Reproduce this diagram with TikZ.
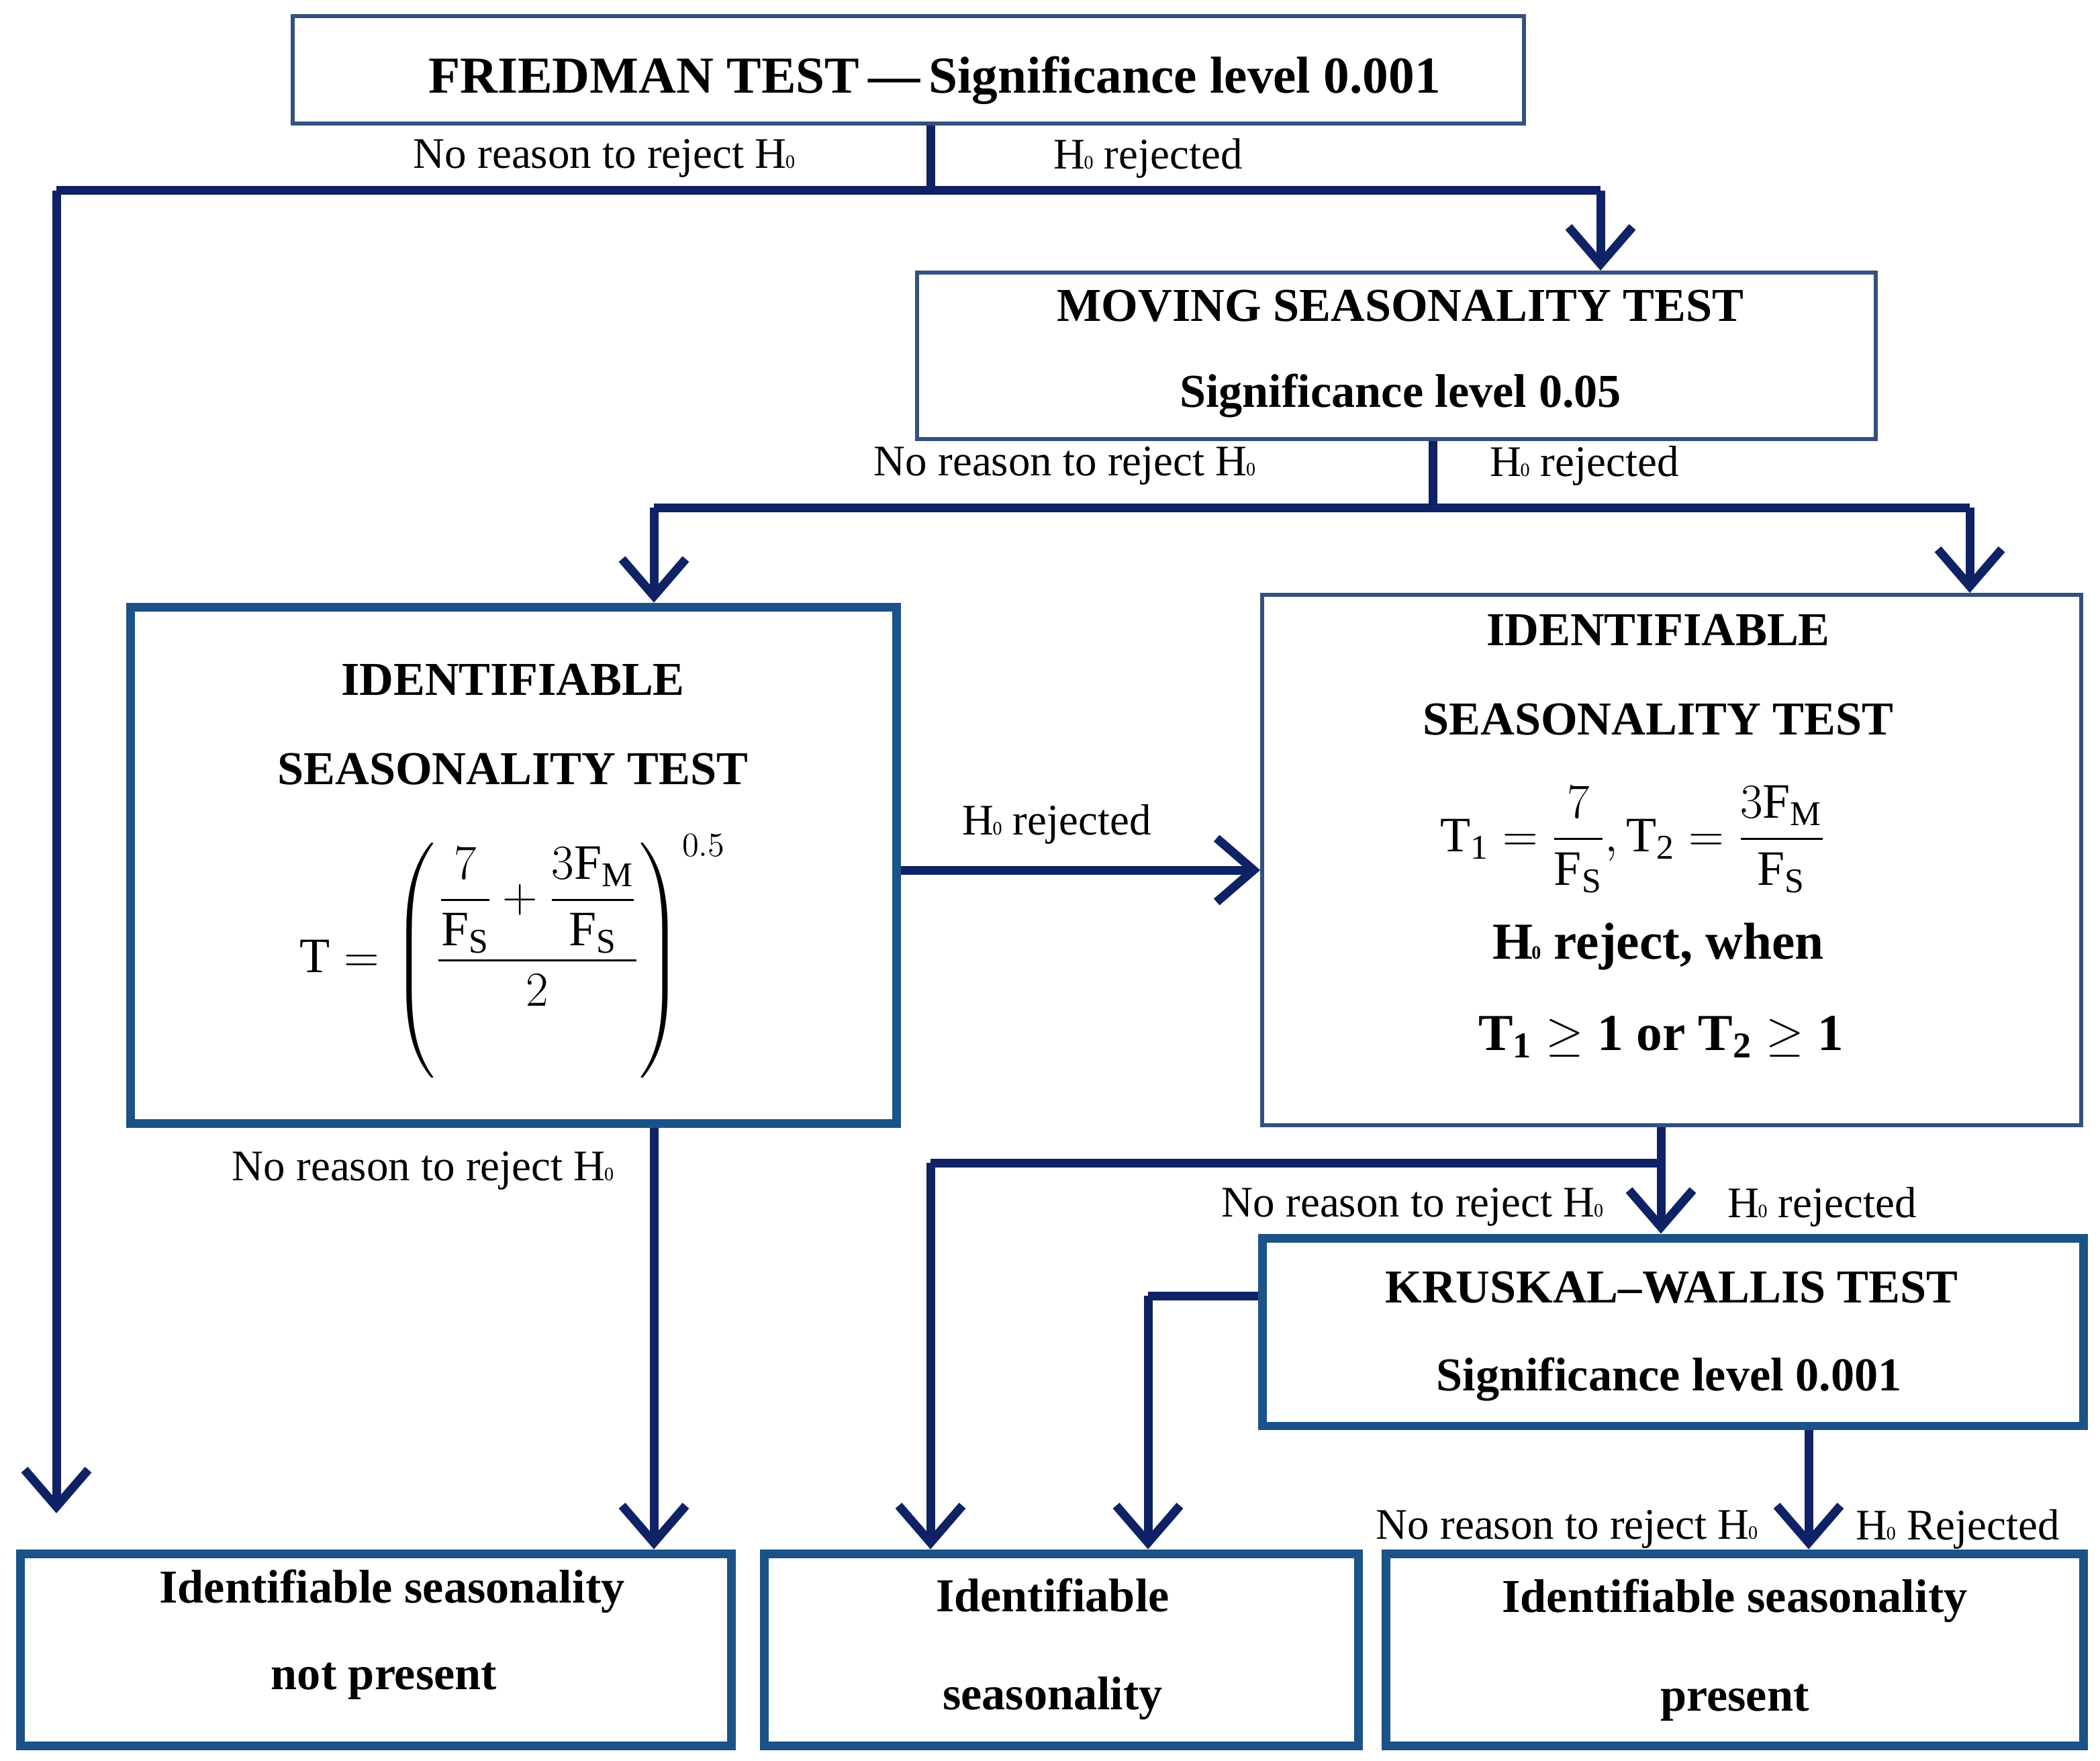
\documentclass[tikz,border=0pt]{standalone}
\usepackage{fontspec}
\usepackage{amsmath}
\setmainfont{Liberation Serif}
\usetikzlibrary{arrows.meta}
\definecolor{navy}{HTML}{0F2266}
\definecolor{thinb}{HTML}{34507E}
\definecolor{thickb}{HTML}{1B5288}
\newcommand{\Hz}{H\kern-0.5pt{\footnotesize 0}}
\begin{document}
\begin{tikzpicture}[x=0.02cm,y=-0.02cm,
  every node/.style={font=\fontsize{19}{22}\selectfont},
  thin box/.style={draw=thinb,line width=0.06cm,inner sep=0pt},
  thick box/.style={draw=thickb,line width=0.13cm,inner sep=0pt},
  conn/.style={draw=navy,line width=0.13cm},
  arr/.style={conn,-{Straight Barb[length=0.55cm,width=0.95cm,line width=0.13cm]}},
  lab/.style={font=\fontsize{18.5}{21}\selectfont,inner sep=1pt},
  title/.style={font=\fontsize{20}{23}\selectfont\bfseries,align=center},
  mathn/.style={font=\fontsize{21}{25}\selectfont}]
\useasboundingbox (0,0) rectangle (1564,1311);
% boxes
\node[thin box,minimum width=18.34cm,minimum height=1.6cm] (F) at (676.5,52) {};
\node[title,font=\fontsize{22}{25}\selectfont\bfseries] at (696,60) {FRIEDMAN TEST\,---\,Significance level 0.001};
\node[thin box,minimum width=14.28cm,minimum height=2.48cm] (M) at (1040,265) {};
\node[title] at (1043,228) {MOVING SEASONALITY  TEST};
\node[title] at (1043,295) {Significance level 0.05};
\node[thick box,minimum width=11.42cm,minimum height=7.7cm] (L) at (382.5,644.5) {};
\node[title] at (382,506) {IDENTIFIABLE};
\node[title] at (382,573) {SEASONALITY TEST};
\node[mathn] at (382,712) {$\mathrm{T}=\left(\dfrac{\dfrac{7}{\mathrm{F_S}}+\dfrac{3\mathrm{F_M}}{\mathrm{F_S}}}{2}\right)^{0.5}$};
\node[thin box,minimum width=12.2cm,minimum height=7.9cm] (R) at (1245,640.5) {};
\node[title] at (1235,469) {IDENTIFIABLE};
\node[title] at (1235,536) {SEASONALITY TEST};
\node[mathn] at (1216,625) {$\mathrm{T_1}=\dfrac{7}{\mathrm{F_S}},\mathrm{T_2}=\dfrac{3\mathrm{F_M}}{\mathrm{F_S}}$};
\node[title,font=\fontsize{22}{25}\selectfont\bfseries] at (1235,705) {\Hz{} reject, when};
\node[title,font=\fontsize{22}{25}\selectfont\bfseries] at (1237,772) {$\mathbf{T_1\geq 1}$ or $\mathbf{T_2\geq 1}$};
\node[thick box,minimum width=12.24cm,minimum height=2.8cm] (K) at (1246,992) {};
\node[title] at (1245,959) {KRUSKAL--WALLIS  TEST};
\node[title] at (1243,1027) {Significance level 0.001};
\node[thick box,minimum width=10.6cm,minimum height=2.86cm] (B1) at (280,1228.5) {};
\node[title] at (292,1185) {Identifiable seasonality};
\node[title] at (286,1252) {not present};
\node[thick box,minimum width=8.86cm,minimum height=2.86cm] (B2) at (790.5,1228.5) {};
\node[title] at (784,1188) {Identifiable};
\node[title] at (784,1265) {seasonality};
\node[thick box,minimum width=10.4cm,minimum height=2.86cm] (B3) at (1292,1228.5) {};
\node[title] at (1292,1192) {Identifiable seasonality};
\node[title] at (1292,1268) {present};
% junctions
\coordinate (j1) at (693,142);
\coordinate (j1l) at (42,142);
\coordinate (j1r) at (1192,142);
\coordinate (e1) at (42,1127);
\coordinate (j2) at (1067,378);
\coordinate (j2l) at (487,378);
\coordinate (j2r) at (1467,378);
\coordinate (j3) at (1237,866);
\coordinate (j3l) at (693,866);
\coordinate (j4) at (855,965);
% connectors
\draw[conn] (F.south -| j1) -- (j1);
\draw[conn] (j1l) -- (j1r);
\draw[arr] (j1l) -- (e1);
\draw[arr] (j1r) -- (M.north -| j1r);
\draw[conn] (M.south -| j2) -- (j2);
\draw[conn] (j2l) -- (j2r);
\draw[arr] (j2l) -- (L.north -| j2l);
\draw[arr] (j2r) -- (R.north -| j2r);
\draw[arr] (L.east |- 0,648) -- (R.west |- 0,648);
\draw[arr] (L.south -| j2l) -- (B1.north -| j2l);
\draw[conn] (R.south -| j3) -- (j3);
\draw[conn] (j3) -- (j3l);
\draw[arr] (j3l) -- (B2.north -| j3l);
\draw[arr] (j3) -- (K.north -| j3);
\draw[conn] (K.west |- j4) -- (j4);
\draw[arr] (j4) -- (B2.north -| j4);
\draw[arr] (K.south -| 1347,0) -- (B3.north -| 1347,0);
% labels
\node[lab] at (450,118) {No reason to reject \Hz};
\node[lab] at (855,118) {\Hz{} rejected};
\node[lab] at (793,347) {No reason to reject \Hz};
\node[lab] at (1180,347) {\Hz{} rejected};
\node[lab] at (787,614) {\Hz{} rejected};
\node[lab] at (315,872) {No reason to reject \Hz};
\node[lab] at (1052,899) {No reason to reject \Hz};
\node[lab] at (1357,899) {\Hz{} rejected};
\node[lab] at (1167,1139) {No reason to reject \Hz};
\node[lab] at (1458,1139) {\Hz{} Rejected};
\end{tikzpicture}
\end{document}
